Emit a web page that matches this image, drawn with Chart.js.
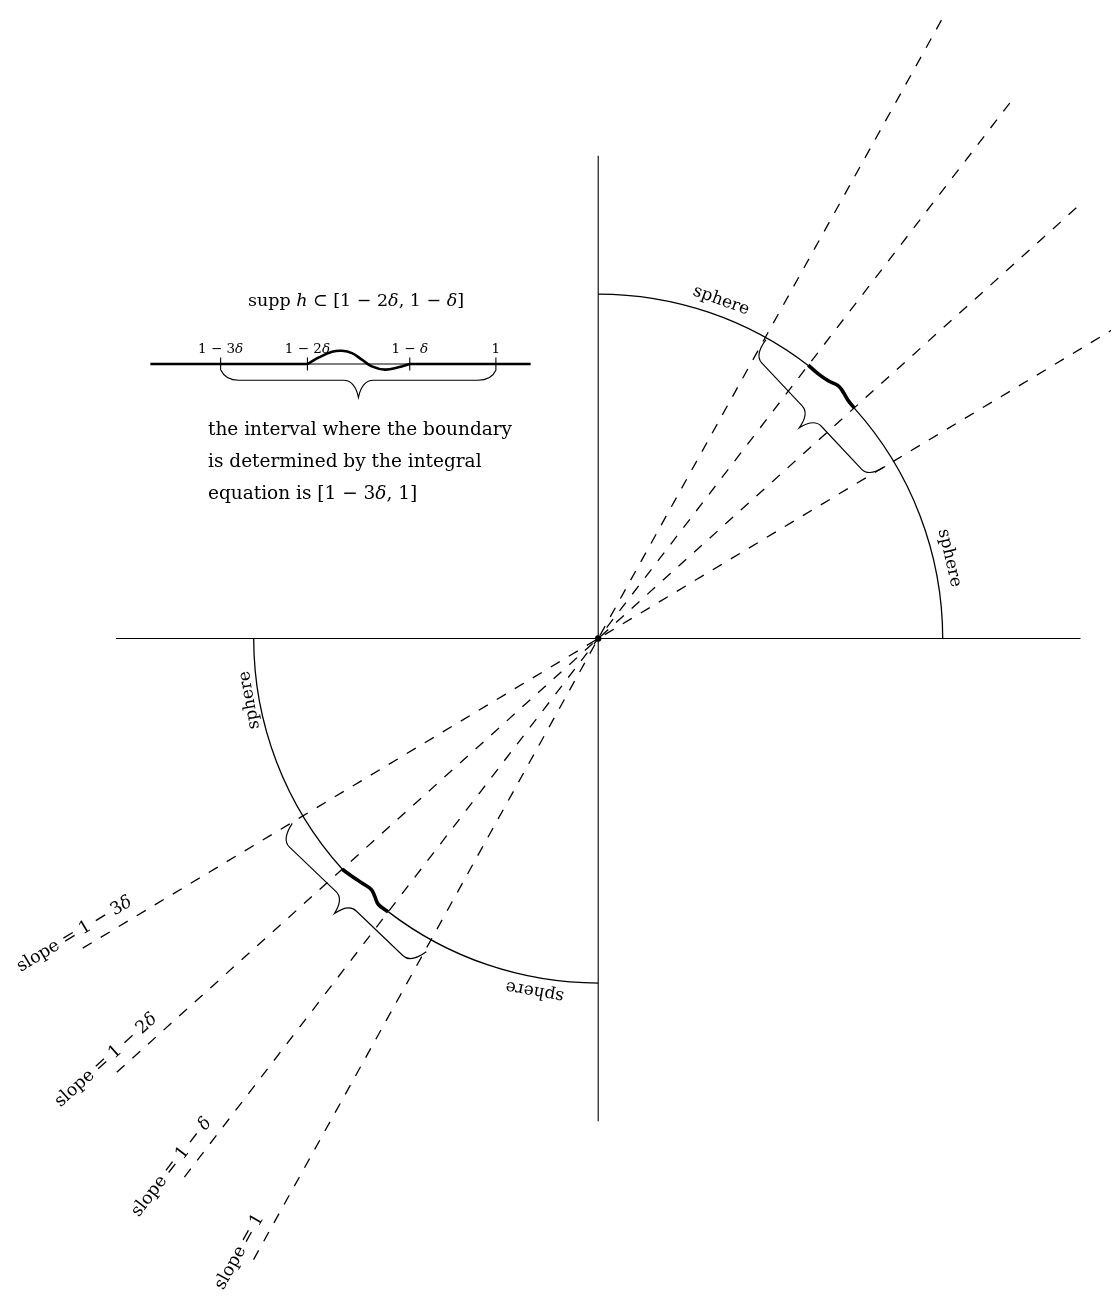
<!DOCTYPE html>
<html>
<head>
<meta charset="utf-8">
<script src="https://cdn.jsdelivr.net/npm/chart.js@4"></script>
<style>
  html, body { margin: 0; padding: 0; background: #fff; }
  canvas { display: block; }
</style>
</head>
<body>
<canvas id="diagram" width="1115" height="1296"></canvas>
<script>
// diagram units: 1 = radius of the sphere, origin at the crossing of the axes

// dashed lines through the origin
const rayLabels = ['slope = 1', 'slope = 1 − *δ*', 'slope = 1 − 2*δ*', 'slope = 1 − 3*δ*'];
const raySlopes = [1.8, 1.3, 0.9, 0.6];
const rayReach = [2.06, 1.97, 1.88, 1.745];

const axisReach = 1.4;
const sphereRadius = 1;
const sphereArcs = [[0, 90], [180, 270]];          // degrees
const sphereLabelAngles = [70.0, 12.9, 190.0, 259.8];
const sphereLabelRadii = [1.043, 1.046, 1.028, 1.039];

// wavy boundary piece between slope 1-2δ (u = 0) and slope 1-δ (u = 1), radial offset
const waveUpperU = [0, 0.145, 0.30, 0.42, 0.59, 0.79, 1];
const waveUpperOffset = [0, 0.0014, 0.0081, 0.0115, 0.0026, -0.0014, 0];
const waveLowerU = [0, 0.18, 0.37, 0.56, 0.67, 0.80, 1];
const waveLowerOffset = [0, -0.0066, -0.0135, -0.0187, -0.0110, 0.0006, 0];

// the small number line
const insetLevel = 0.796;
const insetSpan = [-1.300, -0.196];
const insetTicks = [-1.096, -0.844, -0.547, -0.297];
const insetTickLabels = ['1 − 3*δ*', '1 − 2*δ*', '1 − *δ*', '1'];
const insetWaveX = [-0.8444, -0.8107, -0.7723, -0.7435, -0.7147, -0.6859, -0.6571, -0.6187, -0.5801, -0.5467];
const insetWaveRise = [0, 0.0193, 0.0357, 0.0386, 0.0317, 0.0127, -0.0066, -0.0161, -0.0095, 0];

// curly braces, from -> to
const braceFrom = [[0.487, 0.867], [-0.888, -0.536], [-1.095, 0.778]];
const braceTo = [[0.833, 0.499], [-0.499, -0.908], [-0.297, 0.778]];

const insetTitle = 'supp *h* ⊂ [1 − 2*δ*, 1 − *δ*]';
const captionLines = ['the interval where the boundary', 'is determined by the integral', 'equation is [1 − 3*δ*, 1]'];

const ink = '#000';
const serif = '"DejaVu Serif", "Liberation Serif", serif';
const deg = Math.PI / 180;

const rayAngle = raySlopes.map(s => Math.atan(s));
const waveFrom = rayAngle[2], waveTo = rayAngle[1];

function line(points, width, dash) {
  return { data: points, showLine: true, borderColor: ink, borderWidth: width, borderDash: dash || [], pointRadius: 0, tension: 0 };
}

const datasets = [];
datasets.push(line([{ x: -axisReach, y: 0 }, { x: axisReach, y: 0 }], 1.1));
datasets.push(line([{ x: 0, y: axisReach }, { x: 0, y: -axisReach }], 1.1));
rayAngle.forEach((a, i) => {
  const c = Math.cos(a) * rayReach[i], s = Math.sin(a) * rayReach[i];
  datasets.push(line([{ x: -c, y: -s }, { x: c, y: s }], 1.3, [10.5, 10.5]));
});
function wave(us, offs, turn) {
  return us.map((u, i) => {
    const t = waveFrom + u * (waveTo - waveFrom) + turn;
    const r = sphereRadius + offs[i];
    return { x: r * Math.cos(t), y: r * Math.sin(t) };
  });
}
datasets.push(Object.assign(line(wave(waveUpperU, waveUpperOffset, 0), 3.6), { tension: 0.4 }));
datasets.push(Object.assign(line(wave(waveLowerU, waveLowerOffset, Math.PI), 3.6), { tension: 0.4 }));
// number line: thick outside the support, thin underneath the bump
datasets.push(line([{ x: insetSpan[0], y: insetLevel }, { x: insetTicks[1], y: insetLevel }], 2.6));
datasets.push(line([{ x: insetTicks[2], y: insetLevel }, { x: insetSpan[1], y: insetLevel }], 2.6));
datasets.push(line([{ x: insetTicks[1], y: insetLevel }, { x: insetTicks[2], y: insetLevel }], 1.1));
insetTicks.forEach(t => datasets.push(line([{ x: t, y: insetLevel + 0.0187 }, { x: t, y: insetLevel - 0.0187 }], 1.1)));
datasets.push(Object.assign(line(insetWaveX.map((x, i) => ({ x, y: insetLevel + insetWaveRise[i] })), 2.6), { tension: 0.4 }));
datasets.push({ data: [{ x: 0, y: 0 }], showLine: false, pointRadius: 3.2, backgroundColor: ink, borderWidth: 0 });

function toPx(chart, x, y) {
  return [chart.scales.x.getPixelForValue(x), chart.scales.y.getPixelForValue(y)];
}
function setFont(ctx, size, italic) {
  ctx.font = (italic ? 'italic ' : '') + size + 'px ' + serif;
}
function drawRich(ctx, str, x, y, size, align, rot) {
  const parts = str.split('*').map((t, i) => ({ t, it: i % 2 === 1 })).filter(p => p.t);
  let w = 0;
  parts.forEach(p => { setFont(ctx, size, p.it); w += ctx.measureText(p.t).width; });
  ctx.save();
  ctx.translate(x, y);
  if (rot) ctx.rotate(rot);
  ctx.textAlign = 'left';
  let cx = align === 'center' ? -w / 2 : 0;
  parts.forEach(p => { setFont(ctx, size, p.it); ctx.fillText(p.t, cx, 0); cx += ctx.measureText(p.t).width; });
  ctx.restore();
}
// brace from a to b, bulging to the clockwise side of a->b
function brace(ctx, a, b, body, tip, end, curl) {
  const L = Math.hypot(b[0] - a[0], b[1] - a[1]), m = L / 2;
  ctx.save();
  ctx.translate(a[0], a[1]);
  ctx.rotate(Math.atan2(b[1] - a[1], b[0] - a[0]));
  ctx.beginPath();
  ctx.moveTo(0, 0);
  ctx.bezierCurveTo(0.15 * end, 0.6 * body, 0.5 * end, body, end, body);
  ctx.lineTo(m - curl, body);
  ctx.bezierCurveTo(m - 0.5 * curl, body, m - 0.15 * curl, body + 0.4 * (tip - body), m, tip);
  ctx.bezierCurveTo(m + 0.15 * curl, body + 0.4 * (tip - body), m + 0.5 * curl, body, m + curl, body);
  ctx.lineTo(L - end, body);
  ctx.bezierCurveTo(L - 0.5 * end, body, L - 0.15 * end, 0.6 * body, L, 0);
  ctx.stroke();
  ctx.restore();
}

const sketch = {
  id: 'sketch',
  beforeDatasetsDraw(chart) {
    const ctx = chart.ctx;
    const o = toPx(chart, 0, 0);
    const r = chart.scales.x.getPixelForValue(sphereRadius) - o[0];
    ctx.save();
    ctx.strokeStyle = ink;
    ctx.lineWidth = 1.3;
    sphereArcs.forEach(([s, e]) => {
      const pieces = [[s * deg, s * deg + waveFrom], [s * deg + waveTo, e * deg]];
      pieces.forEach(([p, q]) => {
        ctx.beginPath();
        ctx.arc(o[0], o[1], r, -q, -p);
        ctx.stroke();
      });
    });
    ctx.restore();
  },
  afterDatasetsDraw(chart) {
    const ctx = chart.ctx;
    ctx.save();
    ctx.strokeStyle = ink;
    ctx.fillStyle = ink;
    ctx.lineWidth = 1.15;
    braceFrom.forEach((f, i) => {
      const small = i === 2;
      brace(ctx, toPx(chart, f[0], f[1]), toPx(chart, braceTo[i][0], braceTo[i][1]),
        small ? 10 : 19, small ? 27 : 36, small ? 18 : 14, small ? 15 : 14);
    });

    ctx.textBaseline = 'middle';
    sphereLabelAngles.forEach((a, i) => {
      const r = sphereLabelRadii[i];
      const p = toPx(chart, r * Math.cos(a * deg), r * Math.sin(a * deg));
      drawRich(ctx, 'sphere', p[0], p[1], 17, 'center', (90 - a) * deg);
    });
    rayAngle.forEach((a, i) => {
      const e = toPx(chart, -Math.cos(a) * rayReach[i], -Math.sin(a) * rayReach[i]);
      const gap = 16;
      drawRich(ctx, rayLabels[i], e[0] - Math.sin(a) * gap, e[1] - Math.cos(a) * gap, 17.5, 'center', -a);
    });

    ctx.textBaseline = 'alphabetic';
    insetTicks.forEach((t, i) => {
      const p = toPx(chart, t, insetLevel);
      drawRich(ctx, insetTickLabels[i], p[0], p[1] - 11, 13.5, 'center');
    });
    const title = toPx(chart, -0.703, 0.9646);
    drawRich(ctx, insetTitle, title[0], title[1], 17.5, 'center');
    const cap = toPx(chart, -1.1326, 0.5899);
    captionLines.forEach((s, i) => drawRich(ctx, s, cap[0], cap[1] + i * 31.7, 18.5, 'left'));
    ctx.restore();
  }
};

new Chart(document.getElementById('diagram'), {
  type: 'scatter',
  data: { datasets },
  options: {
    responsive: false,
    animation: false,
    events: [],
    layout: { padding: 0 },
    scales: {
      x: { type: 'linear', display: false, min: -1.7248, max: 1.4885 },
      y: { type: 'linear', display: false, min: -1.8948, max: 1.8401 }
    },
    plugins: { legend: { display: false }, tooltip: { enabled: false } }
  },
  plugins: [sketch]
});
</script>
</body>
</html>
